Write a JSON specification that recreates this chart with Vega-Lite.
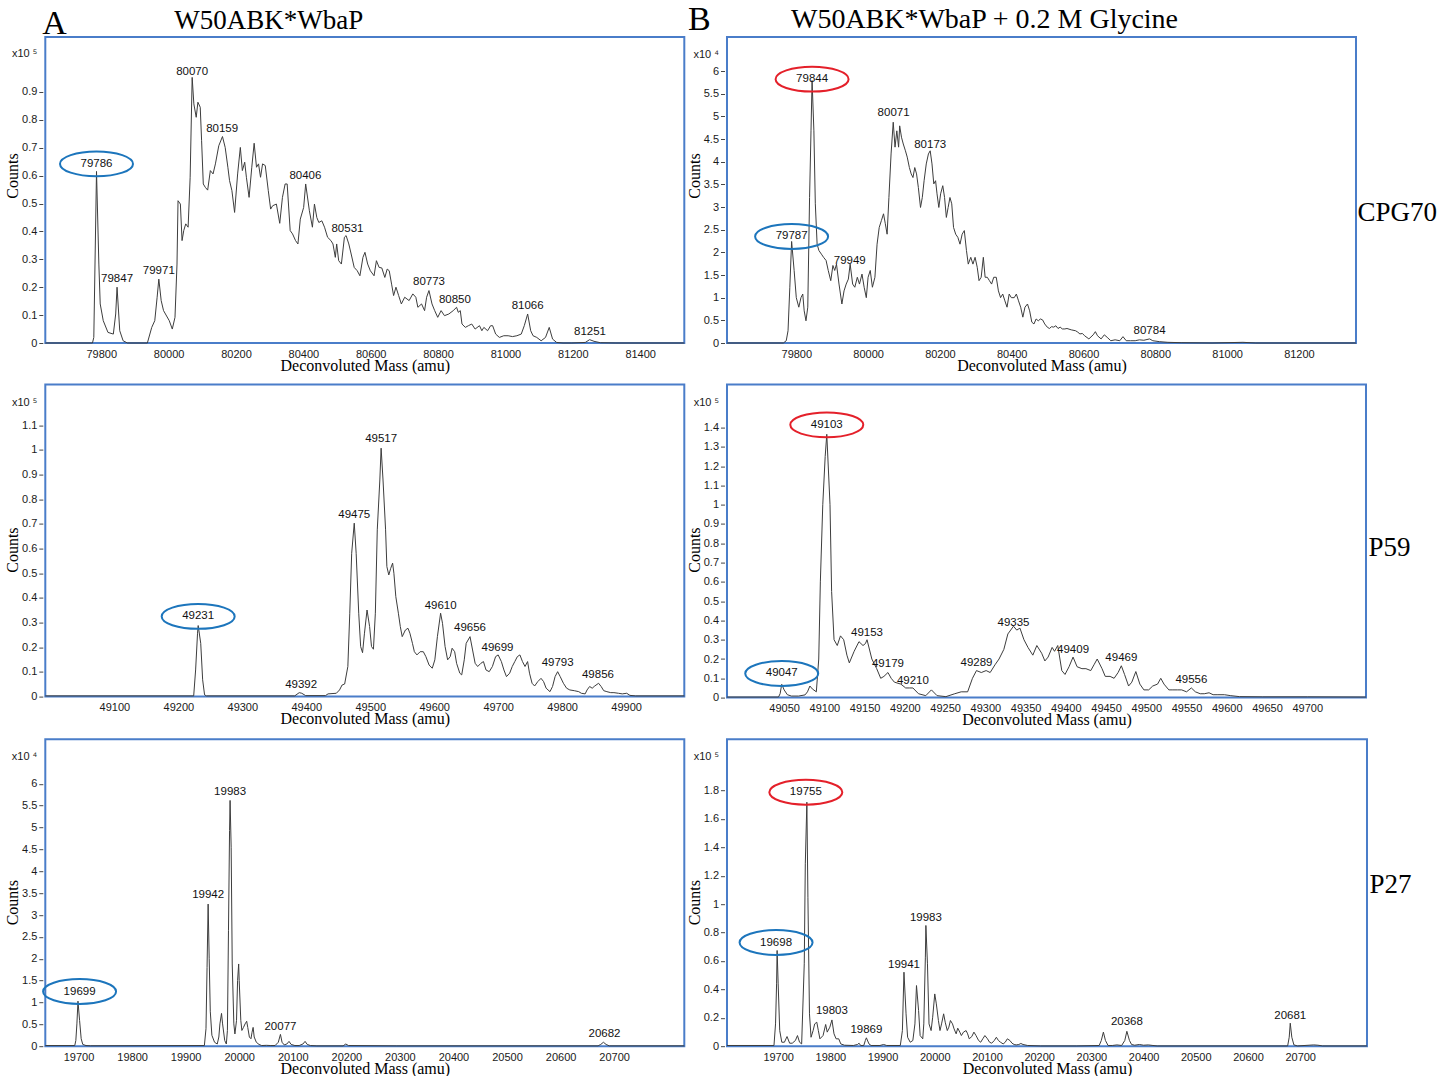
{
"$schema": "https://vega.github.io/schema/vega-lite/v6.json",
"background": "white",
"padding": {"left": 3.3, "top": 1, "right": 0, "bottom": 0},
"columns": 2,
"bounds": "flush",
"align": "each",
"spacing": {"row": 41.6, "column": 42.7},
"resolve": {"scale": {"x": "independent", "y": "independent"}},
"config": {
  "view": {"stroke": "#4A7DC9", "strokeWidth": 2},
  "axis": {"labelFont": "Liberation Sans", "labelFontSize": 11, "labelColor": "#1a1a1a", "titleFont": "Liberation Serif", "titleFontSize": 16, "titleFontWeight": "normal", "titleColor": "#000000", "grid": false, "domain": false, "tickColor": "#444444", "labelOverlap": false, "labelFlush": false, "labelBound": false},
  "axisBottom": {"ticks": false, "labelPadding": 5, "titlePadding": -2},
  "axisLeft": {"offset": 2.5, "tickSize": 4, "labelPadding": 2, "titleX": -30, "titleBaseline": "middle"},
  "text": {"font": "Liberation Sans", "fontSize": 11.5, "color": "#111111"}
},
"datasets": {
  "a1": [{"mass":79634,"counts":0},{"mass":79774,"counts":0},{"mass":79778,"counts":0.02},{"mass":79786,"counts":0.615},{"mass":79793,"counts":0.283},{"mass":79797,"counts":0.14},{"mass":79806,"counts":0.08},{"mass":79820,"counts":0.038},{"mass":79836,"counts":0.032},{"mass":79843,"counts":0.104},{"mass":79847,"counts":0.2},{"mass":79855,"counts":0.044},{"mass":79865,"counts":0.008},{"mass":79878,"counts":0},{"mass":79937,"counts":0},{"mass":79950,"counts":0.056},{"mass":79959,"counts":0.08},{"mass":79966,"counts":0.164},{"mass":79971,"counts":0.229},{"mass":79978,"counts":0.152},{"mass":79985,"counts":0.116},{"mass":80002,"counts":0.08},{"mass":80011,"counts":0.05},{"mass":80019,"counts":0.092},{"mass":80025,"counts":0.283},{"mass":80028,"counts":0.51},{"mass":80035,"counts":0.498},{"mass":80040,"counts":0.367},{"mass":80045,"counts":0.403},{"mass":80051,"counts":0.427},{"mass":80058,"counts":0.415},{"mass":80064,"counts":0.594},{"mass":80070,"counts":0.952},{"mass":80075,"counts":0.857},{"mass":80082,"counts":0.809},{"mass":80087,"counts":0.863},{"mass":80094,"counts":0.845},{"mass":80098,"counts":0.725},{"mass":80103,"counts":0.57},{"mass":80109,"counts":0.558},{"mass":80116,"counts":0.548},{"mass":80124,"counts":0.618},{"mass":80132,"counts":0.606},{"mass":80139,"counts":0.642},{"mass":80149,"counts":0.707},{"mass":80160,"counts":0.74},{"mass":80168,"counts":0.701},{"mass":80176,"counts":0.63},{"mass":80181,"counts":0.582},{"mass":80188,"counts":0.546},{"mass":80196,"counts":0.468},{"mass":80205,"counts":0.606},{"mass":80213,"counts":0.701},{"mass":80219,"counts":0.618},{"mass":80226,"counts":0.648},{"mass":80231,"counts":0.594},{"mass":80239,"counts":0.522},{"mass":80247,"counts":0.63},{"mass":80254,"counts":0.716},{"mass":80261,"counts":0.63},{"mass":80267,"counts":0.642},{"mass":80273,"counts":0.594},{"mass":80279,"counts":0.642},{"mass":80287,"counts":0.636},{"mass":80296,"counts":0.546},{"mass":80303,"counts":0.48},{"mass":80309,"counts":0.492},{"mass":80320,"counts":0.498},{"mass":80330,"counts":0.429},{"mass":80338,"counts":0.522},{"mass":80346,"counts":0.57},{"mass":80352,"counts":0.57},{"mass":80361,"counts":0.403},{"mass":80368,"counts":0.391},{"mass":80377,"counts":0.367},{"mass":80384,"counts":0.355},{"mass":80391,"counts":0.444},{"mass":80401,"counts":0.486},{"mass":80407,"counts":0.57},{"mass":80418,"counts":0.474},{"mass":80427,"counts":0.415},{"mass":80433,"counts":0.498},{"mass":80440,"counts":0.45},{"mass":80446,"counts":0.432},{"mass":80455,"counts":0.438},{"mass":80463,"counts":0.415},{"mass":80472,"counts":0.379},{"mass":80482,"counts":0.367},{"mass":80488,"counts":0.355},{"mass":80495,"counts":0.307},{"mass":80499,"counts":0.355},{"mass":80505,"counts":0.295},{"mass":80513,"counts":0.283},{"mass":80522,"counts":0.379},{"mass":80527,"counts":0.385},{"mass":80535,"counts":0.355},{"mass":80542,"counts":0.319},{"mass":80551,"counts":0.271},{"mass":80560,"counts":0.259},{"mass":80568,"counts":0.241},{"mass":80577,"counts":0.307},{"mass":80583,"counts":0.325},{"mass":80591,"counts":0.283},{"mass":80599,"counts":0.259},{"mass":80610,"counts":0.241},{"mass":80617,"counts":0.295},{"mass":80625,"counts":0.271},{"mass":80633,"counts":0.269},{"mass":80642,"counts":0.235},{"mass":80649,"counts":0.265},{"mass":80655,"counts":0.259},{"mass":80662,"counts":0.211},{"mass":80668,"counts":0.17},{"mass":80675,"counts":0.2},{"mass":80683,"counts":0.17},{"mass":80691,"counts":0.14},{"mass":80701,"counts":0.164},{"mass":80714,"counts":0.152},{"mass":80725,"counts":0.176},{"mass":80734,"counts":0.164},{"mass":80740,"counts":0.128},{"mass":80751,"counts":0.14},{"mass":80760,"counts":0.116},{"mass":80766,"counts":0.164},{"mass":80773,"counts":0.188},{"mass":80782,"counts":0.14},{"mass":80790,"counts":0.116},{"mass":80799,"counts":0.092},{"mass":80809,"counts":0.116},{"mass":80819,"counts":0.098},{"mass":80832,"counts":0.104},{"mass":80845,"counts":0.116},{"mass":80855,"counts":0.128},{"mass":80860,"counts":0.11},{"mass":80866,"counts":0.116},{"mass":80871,"counts":0.068},{"mass":80881,"counts":0.056},{"mass":80890,"counts":0.062},{"mass":80900,"counts":0.068},{"mass":80910,"counts":0.05},{"mass":80923,"counts":0.062},{"mass":80930,"counts":0.044},{"mass":80936,"counts":0.056},{"mass":80947,"counts":0.044},{"mass":80956,"counts":0.062},{"mass":80962,"counts":0.062},{"mass":80971,"counts":0.032},{"mass":80982,"counts":0.02},{"mass":80995,"counts":0.026},{"mass":81008,"counts":0.026},{"mass":81021,"counts":0.023},{"mass":81034,"counts":0.026},{"mass":81047,"counts":0.032},{"mass":81056,"counts":0.062},{"mass":81066,"counts":0.104},{"mass":81075,"counts":0.044},{"mass":81082,"counts":0.026},{"mass":81093,"counts":0.02},{"mass":81106,"counts":0.008},{"mass":81119,"counts":0.02},{"mass":81130,"counts":0.056},{"mass":81140,"counts":0.014},{"mass":81152,"counts":0.002},{"mass":81171,"counts":0},{"mass":81197,"counts":0},{"mass":81237,"counts":0.002},{"mass":81250,"counts":0.012},{"mass":81263,"counts":0.006},{"mass":81282,"counts":0.001},{"mass":81328,"counts":0},{"mass":81531,"counts":0}],
  "a1p": [{"mass":79786,"counts":0.642,"label":"79786","ring":"blue"},{"mass":79847,"counts":0.229,"label":"79847"},{"mass":79971,"counts":0.259,"label":"79971"},{"mass":80070,"counts":0.973,"label":"80070"},{"mass":80159,"counts":0.767,"label":"80159"},{"mass":80406,"counts":0.6,"label":"80406"},{"mass":80531,"counts":0.409,"label":"80531"},{"mass":80773,"counts":0.217,"label":"80773"},{"mass":80850,"counts":0.154,"label":"80850"},{"mass":81066,"counts":0.134,"label":"81066"},{"mass":81251,"counts":0.041,"label":"81251"}],
  "b1": [{"mass":79607,"counts":0},{"mass":79764,"counts":0},{"mass":79772,"counts":0.05},{"mass":79777,"counts":0.27},{"mass":79782,"counts":1.23},{"mass":79787,"counts":2.24},{"mass":79794,"counts":1.6},{"mass":79800,"counts":1.0},{"mass":79807,"counts":0.79},{"mass":79813,"counts":1.0},{"mass":79818,"counts":1.08},{"mass":79822,"counts":0.71},{"mass":79827,"counts":0.49},{"mass":79832,"counts":0.79},{"mass":79837,"counts":3.21},{"mass":79841,"counts":4.68},{"mass":79844,"counts":5.79},{"mass":79849,"counts":4.68},{"mass":79853,"counts":3.07},{"mass":79858,"counts":2.18},{"mass":79863,"counts":2.04},{"mass":79870,"counts":1.96},{"mass":79876,"counts":1.89},{"mass":79883,"counts":1.82},{"mass":79889,"counts":1.6},{"mass":79896,"counts":1.375},{"mass":79902,"counts":1.71},{"mass":79907,"counts":1.6},{"mass":79912,"counts":1.74},{"mass":79919,"counts":1.3},{"mass":79927,"counts":0.86},{"mass":79933,"counts":1.15},{"mass":79939,"counts":1.3},{"mass":79945,"counts":1.41},{"mass":79950,"counts":1.74},{"mass":79957,"counts":1.3},{"mass":79963,"counts":1.23},{"mass":79970,"counts":1.45},{"mass":79976,"counts":1.3},{"mass":79983,"counts":1.52},{"mass":79989,"counts":1.23},{"mass":79995,"counts":1.0},{"mass":80000,"counts":1.45},{"mass":80006,"counts":1.6},{"mass":80012,"counts":1.23},{"mass":80019,"counts":1.45},{"mass":80025,"counts":2.18},{"mass":80031,"counts":2.55},{"mass":80037,"counts":2.7},{"mass":80043,"counts":2.85},{"mass":80048,"counts":2.63},{"mass":80053,"counts":2.4},{"mass":80058,"counts":3.21},{"mass":80064,"counts":4.17},{"mass":80070,"counts":4.87},{"mass":80075,"counts":4.32},{"mass":80080,"counts":4.68},{"mass":80085,"counts":4.32},{"mass":80088,"counts":4.79},{"mass":80093,"counts":4.54},{"mass":80098,"counts":4.39},{"mass":80104,"counts":4.24},{"mass":80109,"counts":4.1},{"mass":80115,"counts":3.87},{"mass":80120,"counts":3.73},{"mass":80125,"counts":3.65},{"mass":80130,"counts":3.87},{"mass":80135,"counts":3.73},{"mass":80140,"counts":3.43},{"mass":80146,"counts":2.99},{"mass":80151,"counts":3.21},{"mass":80156,"counts":3.58},{"mass":80162,"counts":3.95},{"mass":80168,"counts":4.17},{"mass":80173,"counts":4.24},{"mass":80178,"counts":3.95},{"mass":80183,"counts":3.51},{"mass":80188,"counts":3.58},{"mass":80192,"counts":3.29},{"mass":80197,"counts":2.99},{"mass":80202,"counts":3.29},{"mass":80208,"counts":3.47},{"mass":80213,"counts":3.21},{"mass":80218,"counts":2.77},{"mass":80223,"counts":2.99},{"mass":80228,"counts":3.21},{"mass":80233,"counts":3.07},{"mass":80238,"counts":2.55},{"mass":80244,"counts":2.4},{"mass":80250,"counts":2.33},{"mass":80256,"counts":2.18},{"mass":80262,"counts":2.4},{"mass":80268,"counts":2.48},{"mass":80274,"counts":2.04},{"mass":80279,"counts":1.74},{"mass":80286,"counts":1.89},{"mass":80292,"counts":1.74},{"mass":80298,"counts":1.89},{"mass":80304,"counts":1.67},{"mass":80309,"counts":1.375},{"mass":80315,"counts":1.45},{"mass":80321,"counts":1.89},{"mass":80326,"counts":1.45},{"mass":80332,"counts":1.45},{"mass":80338,"counts":1.375},{"mass":80344,"counts":1.3},{"mass":80350,"counts":1.45},{"mass":80357,"counts":1.45},{"mass":80363,"counts":1.15},{"mass":80369,"counts":1.0},{"mass":80375,"counts":1.08},{"mass":80381,"counts":0.93},{"mass":80387,"counts":0.79},{"mass":80393,"counts":1.08},{"mass":80399,"counts":1.0},{"mass":80407,"counts":1.0},{"mass":80413,"counts":1.08},{"mass":80419,"counts":0.93},{"mass":80425,"counts":0.79},{"mass":80431,"counts":0.57},{"mass":80437,"counts":0.79},{"mass":80444,"counts":0.86},{"mass":80450,"counts":0.71},{"mass":80456,"counts":0.46},{"mass":80462,"counts":0.42},{"mass":80468,"counts":0.53},{"mass":80474,"counts":0.49},{"mass":80480,"counts":0.53},{"mass":80486,"counts":0.51},{"mass":80492,"counts":0.42},{"mass":80499,"counts":0.35},{"mass":80505,"counts":0.32},{"mass":80511,"counts":0.36},{"mass":80517,"counts":0.35},{"mass":80523,"counts":0.38},{"mass":80529,"counts":0.32},{"mass":80535,"counts":0.35},{"mass":80541,"counts":0.31},{"mass":80548,"counts":0.31},{"mass":80554,"counts":0.32},{"mass":80566,"counts":0.29},{"mass":80578,"counts":0.27},{"mass":80584,"counts":0.24},{"mass":80590,"counts":0.2},{"mass":80597,"counts":0.21},{"mass":80603,"counts":0.16},{"mass":80615,"counts":0.09},{"mass":80627,"counts":0.18},{"mass":80633,"counts":0.25},{"mass":80639,"counts":0.16},{"mass":80649,"counts":0.09},{"mass":80658,"counts":0.18},{"mass":80666,"counts":0.125},{"mass":80676,"counts":0.05},{"mass":80688,"counts":0.07},{"mass":80701,"counts":0.05},{"mass":80710,"counts":0.14},{"mass":80719,"counts":0.05},{"mass":80731,"counts":0.05},{"mass":80744,"counts":0.05},{"mass":80756,"counts":0.07},{"mass":80768,"counts":0.06},{"mass":80784,"counts":0.09},{"mass":80793,"counts":0.05},{"mass":80811,"counts":0.03},{"mass":80835,"counts":0.015},{"mass":80872,"counts":0.007},{"mass":80958,"counts":0},{"mass":81044,"counts":0.015},{"mass":81080,"counts":0},{"mass":81359,"counts":0}],
  "b1p": [{"mass":79844,"counts":5.82,"label":"79844","ring":"red"},{"mass":79787,"counts":2.35,"label":"79787","ring":"blue"},{"mass":79949,"counts":1.8,"label":"79949"},{"mass":80071,"counts":5.07,"label":"80071"},{"mass":80173,"counts":4.375,"label":"80173"},{"mass":80784,"counts":0.27,"label":"80784"}],
  "a2": [{"mass":48992,"counts":0.003},{"mass":49224,"counts":0.003},{"mass":49227,"counts":0.108},{"mass":49230,"counts":0.257},{"mass":49231,"counts":0.288},{"mass":49235,"counts":0.216},{"mass":49238,"counts":0.068},{"mass":49241,"counts":0.007},{"mass":49244,"counts":0.003},{"mass":49382,"counts":0.003},{"mass":49389,"counts":0.016},{"mass":49393,"counts":0.0135},{"mass":49399,"counts":0.004},{"mass":49430,"counts":0.004},{"mass":49434,"counts":0.011},{"mass":49447,"counts":0.0135},{"mass":49452,"counts":0.027},{"mass":49456,"counts":0.047},{"mass":49460,"counts":0.051},{"mass":49465,"counts":0.122},{"mass":49468,"counts":0.338},{"mass":49471,"counts":0.581},{"mass":49475,"counts":0.703},{"mass":49478,"counts":0.581},{"mass":49482,"counts":0.338},{"mass":49485,"counts":0.203},{"mass":49488,"counts":0.178},{"mass":49491,"counts":0.257},{"mass":49495,"counts":0.351},{"mass":49499,"counts":0.284},{"mass":49502,"counts":0.203},{"mass":49505,"counts":0.192},{"mass":49508,"counts":0.338},{"mass":49511,"counts":0.676},{"mass":49515,"counts":0.878},{"mass":49517,"counts":1.007},{"mass":49520,"counts":0.878},{"mass":49524,"counts":0.676},{"mass":49526,"counts":0.527},{"mass":49529,"counts":0.493},{"mass":49532,"counts":0.52},{"mass":49535,"counts":0.541},{"mass":49537,"counts":0.5},{"mass":49540,"counts":0.405},{"mass":49544,"counts":0.338},{"mass":49547,"counts":0.284},{"mass":49550,"counts":0.243},{"mass":49555,"counts":0.27},{"mass":49559,"counts":0.277},{"mass":49562,"counts":0.257},{"mass":49566,"counts":0.216},{"mass":49569,"counts":0.182},{"mass":49573,"counts":0.169},{"mass":49578,"counts":0.182},{"mass":49583,"counts":0.182},{"mass":49587,"counts":0.162},{"mass":49592,"counts":0.128},{"mass":49597,"counts":0.115},{"mass":49601,"counts":0.149},{"mass":49605,"counts":0.243},{"mass":49610,"counts":0.338},{"mass":49613,"counts":0.297},{"mass":49617,"counts":0.203},{"mass":49621,"counts":0.149},{"mass":49625,"counts":0.162},{"mass":49628,"counts":0.196},{"mass":49632,"counts":0.182},{"mass":49635,"counts":0.135},{"mass":49640,"counts":0.095},{"mass":49643,"counts":0.088},{"mass":49647,"counts":0.149},{"mass":49650,"counts":0.216},{"mass":49656,"counts":0.243},{"mass":49660,"counts":0.189},{"mass":49664,"counts":0.135},{"mass":49668,"counts":0.122},{"mass":49673,"counts":0.135},{"mass":49677,"counts":0.142},{"mass":49681,"counts":0.108},{"mass":49686,"counts":0.101},{"mass":49691,"counts":0.122},{"mass":49696,"counts":0.162},{"mass":49700,"counts":0.169},{"mass":49705,"counts":0.142},{"mass":49709,"counts":0.108},{"mass":49713,"counts":0.081},{"mass":49718,"counts":0.095},{"mass":49722,"counts":0.122},{"mass":49726,"counts":0.142},{"mass":49730,"counts":0.162},{"mass":49734,"counts":0.169},{"mass":49738,"counts":0.142},{"mass":49742,"counts":0.122},{"mass":49746,"counts":0.142},{"mass":49749,"counts":0.095},{"mass":49753,"counts":0.054},{"mass":49757,"counts":0.043},{"mass":49762,"counts":0.061},{"mass":49767,"counts":0.074},{"mass":49771,"counts":0.061},{"mass":49775,"counts":0.034},{"mass":49781,"counts":0.02},{"mass":49785,"counts":0.041},{"mass":49789,"counts":0.081},{"mass":49793,"counts":0.101},{"mass":49797,"counts":0.081},{"mass":49802,"counts":0.054},{"mass":49807,"counts":0.034},{"mass":49812,"counts":0.027},{"mass":49819,"counts":0.024},{"mass":49826,"counts":0.02},{"mass":49830,"counts":0.0135},{"mass":49836,"counts":0.011},{"mass":49839,"counts":0.027},{"mass":49843,"counts":0.041},{"mass":49847,"counts":0.034},{"mass":49851,"counts":0.043},{"mass":49857,"counts":0.054},{"mass":49861,"counts":0.041},{"mass":49865,"counts":0.024},{"mass":49870,"counts":0.02},{"mass":49876,"counts":0.016},{"mass":49881,"counts":0.016},{"mass":49888,"counts":0.0135},{"mass":49894,"counts":0.011},{"mass":49901,"counts":0.0135},{"mass":49906,"counts":0.005},{"mass":49915,"counts":0.003},{"mass":49991,"counts":0.003}],
  "a2p": [{"mass":49231,"counts":0.325,"label":"49231","ring":"blue"},{"mass":49392,"counts":0.047,"label":"49392"},{"mass":49475,"counts":0.736,"label":"49475"},{"mass":49517,"counts":1.045,"label":"49517"},{"mass":49610,"counts":0.368,"label":"49610"},{"mass":49656,"counts":0.277,"label":"49656"},{"mass":49699,"counts":0.195,"label":"49699"},{"mass":49793,"counts":0.138,"label":"49793"},{"mass":49856,"counts":0.089,"label":"49856"}],
  "b2": [{"mass":48979,"counts":0.003},{"mass":49043,"counts":0.003},{"mass":49045,"counts":0.02},{"mass":49047,"counts":0.069},{"mass":49050,"counts":0.04},{"mass":49054,"counts":0.015},{"mass":49059,"counts":0.008},{"mass":49068,"counts":0.008},{"mass":49076,"counts":0.014},{"mass":49079,"counts":0.03},{"mass":49082,"counts":0.06},{"mass":49085,"counts":0.045},{"mass":49090,"counts":0.03},{"mass":49093,"counts":0.2},{"mass":49095,"counts":0.6},{"mass":49098,"counts":1.0},{"mass":49101,"counts":1.25},{"mass":49103,"counts":1.365},{"mass":49107,"counts":1.0},{"mass":49109,"counts":0.55},{"mass":49112,"counts":0.3},{"mass":49116,"counts":0.27},{"mass":49120,"counts":0.32},{"mass":49124,"counts":0.3},{"mass":49128,"counts":0.22},{"mass":49131,"counts":0.18},{"mass":49137,"counts":0.24},{"mass":49143,"counts":0.29},{"mass":49148,"counts":0.27},{"mass":49151,"counts":0.28},{"mass":49153,"counts":0.3},{"mass":49159,"counts":0.2},{"mass":49165,"counts":0.15},{"mass":49170,"counts":0.1},{"mass":49174,"counts":0.11},{"mass":49179,"counts":0.13},{"mass":49183,"counts":0.1},{"mass":49187,"counts":0.08},{"mass":49195,"counts":0.07},{"mass":49201,"counts":0.05},{"mass":49206,"counts":0.05},{"mass":49210,"counts":0.05},{"mass":49217,"counts":0.02},{"mass":49226,"counts":0.01},{"mass":49233,"counts":0.04},{"mass":49240,"counts":0.01},{"mass":49251,"counts":0.005},{"mass":49262,"counts":0.02},{"mass":49270,"counts":0.03},{"mass":49278,"counts":0.03},{"mass":49284,"counts":0.1},{"mass":49289,"counts":0.14},{"mass":49295,"counts":0.13},{"mass":49301,"counts":0.14},{"mass":49306,"counts":0.13},{"mass":49312,"counts":0.17},{"mass":49317,"counts":0.2},{"mass":49323,"counts":0.25},{"mass":49328,"counts":0.33},{"mass":49335,"counts":0.37},{"mass":49339,"counts":0.35},{"mass":49343,"counts":0.36},{"mass":49348,"counts":0.3},{"mass":49353,"counts":0.26},{"mass":49359,"counts":0.22},{"mass":49364,"counts":0.27},{"mass":49370,"counts":0.23},{"mass":49374,"counts":0.19},{"mass":49378,"counts":0.21},{"mass":49383,"counts":0.26},{"mass":49386,"counts":0.24},{"mass":49390,"counts":0.27},{"mass":49395,"counts":0.14},{"mass":49399,"counts":0.12},{"mass":49404,"counts":0.16},{"mass":49409,"counts":0.21},{"mass":49414,"counts":0.16},{"mass":49420,"counts":0.15},{"mass":49425,"counts":0.15},{"mass":49431,"counts":0.14},{"mass":49435,"counts":0.17},{"mass":49439,"counts":0.2},{"mass":49445,"counts":0.15},{"mass":49449,"counts":0.11},{"mass":49455,"counts":0.11},{"mass":49460,"counts":0.1},{"mass":49465,"counts":0.13},{"mass":49469,"counts":0.165},{"mass":49473,"counts":0.12},{"mass":49478,"counts":0.06},{"mass":49482,"counts":0.08},{"mass":49487,"counts":0.135},{"mass":49492,"counts":0.07},{"mass":49497,"counts":0.04},{"mass":49503,"counts":0.04},{"mass":49508,"counts":0.06},{"mass":49514,"counts":0.07},{"mass":49518,"counts":0.1},{"mass":49522,"counts":0.07},{"mass":49528,"counts":0.04},{"mass":49533,"counts":0.04},{"mass":49539,"counts":0.04},{"mass":49544,"counts":0.04},{"mass":49550,"counts":0.03},{"mass":49556,"counts":0.05},{"mass":49561,"counts":0.03},{"mass":49567,"counts":0.02},{"mass":49572,"counts":0.02},{"mass":49578,"counts":0.025},{"mass":49583,"counts":0.015},{"mass":49589,"counts":0.015},{"mass":49597,"counts":0.015},{"mass":49605,"counts":0.01},{"mass":49616,"counts":0.005},{"mass":49644,"counts":0.004},{"mass":49700,"counts":0.004},{"mass":49773,"counts":0.003}],
  "b2p": [{"mass":49047,"counts":0.125,"label":"49047","ring":"blue"},{"mass":49103,"counts":1.414,"label":"49103","ring":"red"},{"mass":49153,"counts":0.334,"label":"49153"},{"mass":49179,"counts":0.173,"label":"49179"},{"mass":49210,"counts":0.086,"label":"49210"},{"mass":49289,"counts":0.181,"label":"49289"},{"mass":49335,"counts":0.389,"label":"49335"},{"mass":49409,"counts":0.245,"label":"49409"},{"mass":49469,"counts":0.204,"label":"49469"},{"mass":49556,"counts":0.09,"label":"49556"}],
  "a3": [{"mass":19638,"counts":0.015},{"mass":19693,"counts":0.015},{"mass":19695,"counts":0.13},{"mass":19697,"counts":0.51},{"mass":19699,"counts":1.03},{"mass":19702,"counts":0.59},{"mass":19705,"counts":0.17},{"mass":19708,"counts":0.04},{"mass":19714,"counts":0.015},{"mass":19722,"counts":0.01},{"mass":19935,"counts":0.015},{"mass":19938,"counts":0.4},{"mass":19940,"counts":1.8},{"mass":19942,"counts":3.25},{"mass":19944,"counts":2.0},{"mass":19946,"counts":0.8},{"mass":19949,"counts":0.25},{"mass":19954,"counts":0.09},{"mass":19959,"counts":0.05},{"mass":19962,"counts":0.21},{"mass":19964,"counts":0.51},{"mass":19967,"counts":0.75},{"mass":19969,"counts":0.51},{"mass":19973,"counts":0.13},{"mass":19976,"counts":0.05},{"mass":19978,"counts":0.36},{"mass":19980,"counts":2.64},{"mass":19982,"counts":4.93},{"mass":19983,"counts":5.62},{"mass":19985,"counts":4.55},{"mass":19987,"counts":1.88},{"mass":19990,"counts":0.51},{"mass":19992,"counts":0.28},{"mass":19995,"counts":0.59},{"mass":19997,"counts":1.5},{"mass":19999,"counts":1.88},{"mass":20000,"counts":1.5},{"mass":20003,"counts":0.59},{"mass":20005,"counts":0.36},{"mass":20008,"counts":0.43},{"mass":20011,"counts":0.51},{"mass":20014,"counts":0.57},{"mass":20016,"counts":0.43},{"mass":20019,"counts":0.21},{"mass":20022,"counts":0.17},{"mass":20024,"counts":0.32},{"mass":20026,"counts":0.43},{"mass":20028,"counts":0.21},{"mass":20032,"counts":0.09},{"mass":20037,"counts":0.04},{"mass":20042,"counts":0.015},{"mass":20051,"counts":0.02},{"mass":20059,"counts":0.015},{"mass":20067,"counts":0.015},{"mass":20073,"counts":0.09},{"mass":20077,"counts":0.27},{"mass":20080,"counts":0.09},{"mass":20084,"counts":0.03},{"mass":20089,"counts":0.05},{"mass":20093,"counts":0.11},{"mass":20097,"counts":0.04},{"mass":20104,"counts":0.015},{"mass":20112,"counts":0.015},{"mass":20119,"counts":0.05},{"mass":20123,"counts":0.11},{"mass":20127,"counts":0.04},{"mass":20133,"counts":0.015},{"mass":20145,"counts":0.008},{"mass":20194,"counts":0.008},{"mass":20199,"counts":0.05},{"mass":20204,"counts":0.015},{"mass":20293,"counts":0.008},{"mass":20670,"counts":0.008},{"mass":20675,"counts":0.04},{"mass":20680,"counts":0.09},{"mass":20685,"counts":0.04},{"mass":20691,"counts":0.008},{"mass":20831,"counts":0.008}],
  "a3p": [{"mass":19702,"counts":1.25,"label":"19699","ring":"blue"},{"mass":19942,"counts":3.45,"label":"19942"},{"mass":19983,"counts":5.82,"label":"19983"},{"mass":20077,"counts":0.43,"label":"20077"},{"mass":20682,"counts":0.28,"label":"20682"}],
  "b3": [{"mass":19602,"counts":0.005},{"mass":19692,"counts":0.005},{"mass":19695,"counts":0.157},{"mass":19697,"counts":0.439},{"mass":19698,"counts":0.674},{"mass":19700,"counts":0.439},{"mass":19703,"counts":0.11},{"mass":19707,"counts":0.028},{"mass":19712,"counts":0.028},{"mass":19717,"counts":0.068},{"mass":19722,"counts":0.021},{"mass":19727,"counts":0.021},{"mass":19733,"counts":0.04},{"mass":19737,"counts":0.075},{"mass":19741,"counts":0.028},{"mass":19745,"counts":0.016},{"mass":19750,"counts":0.58},{"mass":19752,"counts":1.284},{"mass":19755,"counts":1.718},{"mass":19757,"counts":1.049},{"mass":19760,"counts":0.228},{"mass":19763,"counts":0.063},{"mass":19767,"counts":0.11},{"mass":19770,"counts":0.157},{"mass":19774,"counts":0.169},{"mass":19777,"counts":0.11},{"mass":19780,"counts":0.052},{"mass":19786,"counts":0.075},{"mass":19791,"counts":0.153},{"mass":19794,"counts":0.099},{"mass":19799,"counts":0.134},{"mass":19803,"counts":0.185},{"mass":19807,"counts":0.087},{"mass":19811,"counts":0.052},{"mass":19816,"counts":0.052},{"mass":19820,"counts":0.016},{"mass":19827,"counts":0.007},{"mass":19844,"counts":0.005},{"mass":19852,"counts":0.012},{"mass":19855,"counts":0.021},{"mass":19858,"counts":0.005},{"mass":19864,"counts":0.005},{"mass":19867,"counts":0.04},{"mass":19869,"counts":0.059},{"mass":19874,"counts":0.016},{"mass":19878,"counts":0.005},{"mass":19895,"counts":0.005},{"mass":19902,"counts":0.012},{"mass":19908,"counts":0.005},{"mass":19934,"counts":0.005},{"mass":19938,"counts":0.11},{"mass":19941,"counts":0.521},{"mass":19945,"counts":0.228},{"mass":19948,"counts":0.063},{"mass":19953,"counts":0.028},{"mass":19958,"counts":0.04},{"mass":19962,"counts":0.157},{"mass":19965,"counts":0.427},{"mass":19969,"counts":0.251},{"mass":19972,"counts":0.075},{"mass":19977,"counts":0.052},{"mass":19979,"counts":0.157},{"mass":19982,"counts":0.627},{"mass":19983,"counts":0.85},{"mass":19986,"counts":0.58},{"mass":19989,"counts":0.157},{"mass":19993,"counts":0.11},{"mass":19996,"counts":0.204},{"mass":20000,"counts":0.368},{"mass":20003,"counts":0.298},{"mass":20007,"counts":0.181},{"mass":20010,"counts":0.11},{"mass":20013,"counts":0.157},{"mass":20017,"counts":0.228},{"mass":20020,"counts":0.169},{"mass":20024,"counts":0.11},{"mass":20027,"counts":0.134},{"mass":20030,"counts":0.181},{"mass":20034,"counts":0.157},{"mass":20037,"counts":0.122},{"mass":20041,"counts":0.087},{"mass":20044,"counts":0.127},{"mass":20048,"counts":0.099},{"mass":20051,"counts":0.075},{"mass":20055,"counts":0.099},{"mass":20060,"counts":0.11},{"mass":20063,"counts":0.087},{"mass":20066,"counts":0.052},{"mass":20071,"counts":0.068},{"mass":20075,"counts":0.099},{"mass":20079,"counts":0.075},{"mass":20084,"counts":0.04},{"mass":20088,"counts":0.028},{"mass":20092,"counts":0.052},{"mass":20096,"counts":0.075},{"mass":20101,"counts":0.052},{"mass":20105,"counts":0.028},{"mass":20109,"counts":0.021},{"mass":20114,"counts":0.04},{"mass":20118,"counts":0.063},{"mass":20122,"counts":0.04},{"mass":20126,"counts":0.028},{"mass":20131,"counts":0.016},{"mass":20135,"counts":0.028},{"mass":20139,"counts":0.052},{"mass":20144,"counts":0.04},{"mass":20148,"counts":0.021},{"mass":20152,"counts":0.012},{"mass":20156,"counts":0.009},{"mass":20161,"counts":0.012},{"mass":20165,"counts":0.019},{"mass":20169,"counts":0.012},{"mass":20178,"counts":0.005},{"mass":20203,"counts":0.002},{"mass":20272,"counts":0.002},{"mass":20315,"counts":0.005},{"mass":20319,"counts":0.04},{"mass":20323,"counts":0.099},{"mass":20327,"counts":0.04},{"mass":20332,"counts":0.005},{"mass":20340,"counts":0.005},{"mass":20349,"counts":0.009},{"mass":20358,"counts":0.005},{"mass":20364,"counts":0.04},{"mass":20368,"counts":0.105},{"mass":20373,"counts":0.04},{"mass":20377,"counts":0.012},{"mass":20383,"counts":0.007},{"mass":20392,"counts":0.012},{"mass":20400,"counts":0.007},{"mass":20409,"counts":0.009},{"mass":20418,"counts":0.005},{"mass":20426,"counts":0.002},{"mass":20676,"counts":0.002},{"mass":20679,"counts":0.063},{"mass":20681,"counts":0.162},{"mass":20684,"counts":0.063},{"mass":20688,"counts":0.009},{"mass":20695,"counts":0.002},{"mass":20717,"counts":0.007},{"mass":20726,"counts":0.009},{"mass":20734,"counts":0.007},{"mass":20743,"counts":0.002},{"mass":20828,"counts":0.002}],
  "b3p": [{"mass":19753,"counts":1.788,"label":"19755","ring":"red"},{"mass":19696,"counts":0.73,"label":"19698","ring":"blue"},{"mass":19941,"counts":0.573,"label":"19941"},{"mass":19983,"counts":0.904,"label":"19983"},{"mass":19803,"counts":0.251,"label":"19803"},{"mass":19869,"counts":0.113,"label":"19869"},{"mass":20368,"counts":0.169,"label":"20368"},{"mass":20681,"counts":0.216,"label":"20681"}]
},
"concat": [
  {
    "width": 639, "height": 306,
    "title": {"text": "A", "anchor": "start", "frame": "group", "font": "Liberation Serif", "fontSize": 34, "fontWeight": "normal", "color": "#000000", "baseline": "alphabetic", "offset": -61.5, "dx": -3},
    "layer": [
      {"data": {"name": "a1"}, "mark": {"type": "line", "color": "#3c3c3c", "strokeWidth": 1},
       "encoding": {
         "x": {"field": "mass", "type": "quantitative", "scale": {"domain": [79634, 81531], "nice": false, "zero": false},
               "axis": {"values": [79800, 80000, 80200, 80400, 80600, 80800, 81000, 81200, 81400], "format": "d", "title": "Deconvoluted Mass (amu)"}},
         "y": {"field": "counts", "type": "quantitative", "scale": {"domain": [0, 1.0968], "nice": false, "zero": false},
               "axis": {"values": [0, 0.1, 0.2, 0.3, 0.4, 0.5, 0.6, 0.7, 0.8, 0.9, 1.038], "format": "~g", "labelExpr": "datum.value > 1 ? 'x10 ⁵' : datum.label", "tickOpacity": {"condition": {"test": "datum.value > 1", "value": 0}, "value": 1}, "title": "Counts", "titleY": 138.5}}}},
      {"data": {"name": "a1p"}, "mark": {"type": "text"},
       "encoding": {
         "x": {"field": "mass", "type": "quantitative", "scale": {"domain": [79634, 81531], "nice": false, "zero": false},
               "axis": {"orient": "top", "labels": false, "ticks": false, "domain": false, "title": "W50ABK*WbaP", "titleFont": "Liberation Serif", "titleFontSize": 27, "titleFontWeight": "normal", "titleX": 223, "titleY": -8.5, "titleAlign": "center", "titleBaseline": "alphabetic"}},
         "y": {"field": "counts", "type": "quantitative", "scale": {"domain": [0, 1.0968], "nice": false, "zero": false}, "axis": null},
         "text": {"field": "label"}}},
      {"data": {"name": "a1p"}, "transform": [{"filter": "datum.ring"}],
       "mark": {"type": "point", "shape": "M-1,0A1,0.34,0,1,0,1,0A1,0.34,0,1,0,-1,0Z", "size": 5329, "filled": false, "strokeWidth": 2, "opacity": 1},
       "encoding": {
         "x": {"field": "mass", "type": "quantitative", "scale": {"domain": [79634, 81531], "nice": false, "zero": false}, "axis": null},
         "y": {"field": "counts", "type": "quantitative", "scale": {"domain": [0, 1.0968], "nice": false, "zero": false}, "axis": null},
         "color": {"field": "ring", "type": "nominal", "scale": {"domain": ["blue", "red"], "range": ["#1C75BC", "#E4202A"]}, "legend": null}}}
    ],
    "resolve": {"axis": {"x": "independent", "y": "independent"}}
  },
  {
    "width": 629, "height": 306,
    "title": {"text": "B", "anchor": "start", "frame": "group", "font": "Liberation Serif", "fontSize": 34, "fontWeight": "normal", "color": "#000000", "baseline": "alphabetic", "offset": -58.2, "dx": -39},
    "layer": [
      {"data": {"name": "b1"}, "mark": {"type": "line", "color": "#3c3c3c", "strokeWidth": 1},
       "encoding": {
         "x": {"field": "mass", "type": "quantitative", "scale": {"domain": [79607, 81359], "nice": false, "zero": false},
               "axis": {"values": [79800, 80000, 80200, 80400, 80600, 80800, 81000, 81200], "format": "d", "title": "Deconvoluted Mass (amu)"}},
         "y": {"field": "counts", "type": "quantitative", "scale": {"domain": [0, 6.75], "nice": false, "zero": false},
               "axis": {"values": [0, 0.5, 1, 1.5, 2, 2.5, 3, 3.5, 4, 4.5, 5, 5.5, 6, 6.375], "format": "~g", "labelExpr": "datum.value > 6.2 ? 'x10 ⁴' : datum.label", "tickOpacity": {"condition": {"test": "datum.value > 6.2", "value": 0}, "value": 1}, "title": "Counts", "titleY": 138.5}}}},
      {"data": {"name": "b1p"}, "mark": {"type": "text"},
       "encoding": {
         "x": {"field": "mass", "type": "quantitative", "scale": {"domain": [79607, 81359], "nice": false, "zero": false},
               "axis": {"orient": "top", "labels": false, "ticks": false, "domain": false, "title": "W50ABK*WbaP + 0.2 M Glycine", "titleFont": "Liberation Serif", "titleFontSize": 28, "titleFontWeight": "normal", "titleX": 257, "titleY": -9.5, "titleAlign": "center", "titleBaseline": "alphabetic"}},
         "y": {"field": "counts", "type": "quantitative", "scale": {"domain": [0, 6.75], "nice": false, "zero": false},
               "axis": {"orient": "right", "labels": false, "ticks": false, "domain": false, "title": "CPG70", "titleAngle": 0, "titleAlign": "left", "titleBaseline": "middle", "titleX": 1, "titleY": 175, "titleFont": "Liberation Serif", "titleFontSize": 27, "titleFontWeight": "normal"}},
         "text": {"field": "label"}}},
      {"data": {"name": "b1p"}, "transform": [{"filter": "datum.ring"}],
       "mark": {"type": "point", "shape": "M-1,0A1,0.34,0,1,0,1,0A1,0.34,0,1,0,-1,0Z", "size": 5329, "filled": false, "strokeWidth": 2, "opacity": 1},
       "encoding": {
         "x": {"field": "mass", "type": "quantitative", "scale": {"domain": [79607, 81359], "nice": false, "zero": false}, "axis": null},
         "y": {"field": "counts", "type": "quantitative", "scale": {"domain": [0, 6.75], "nice": false, "zero": false}, "axis": null},
         "color": {"field": "ring", "type": "nominal", "scale": {"domain": ["blue", "red"], "range": ["#1C75BC", "#E4202A"]}, "legend": null}}}
    ],
    "resolve": {"axis": {"x": "independent", "y": "independent"}}
  },
  {
    "width": 639, "height": 312,
    "layer": [
      {"data": {"name": "a2"}, "mark": {"type": "line", "color": "#3c3c3c", "strokeWidth": 1},
       "encoding": {
         "x": {"field": "mass", "type": "quantitative", "scale": {"domain": [48992, 49991], "nice": false, "zero": false},
               "axis": {"values": [49100, 49200, 49300, 49400, 49500, 49600, 49700, 49800, 49900], "format": "d", "title": "Deconvoluted Mass (amu)"}},
         "y": {"field": "counts", "type": "quantitative", "scale": {"domain": [0, 1.2647], "nice": false, "zero": false},
               "axis": {"values": [0, 0.1, 0.2, 0.3, 0.4, 0.5, 0.6, 0.7, 0.8, 0.9, 1, 1.1, 1.192], "format": "~g", "labelExpr": "datum.value > 1.15 ? 'x10 ⁵' : datum.label", "tickOpacity": {"condition": {"test": "datum.value > 1.15", "value": 0}, "value": 1}, "title": "Counts", "titleY": 165}}}},
      {"data": {"name": "a2p"}, "mark": {"type": "text"},
       "encoding": {
         "x": {"field": "mass", "type": "quantitative", "scale": {"domain": [48992, 49991], "nice": false, "zero": false}, "axis": null},
         "y": {"field": "counts", "type": "quantitative", "scale": {"domain": [0, 1.2647], "nice": false, "zero": false}, "axis": null},
         "text": {"field": "label"}}},
      {"data": {"name": "a2p"}, "transform": [{"filter": "datum.ring"}],
       "mark": {"type": "point", "shape": "M-1,0A1,0.34,0,1,0,1,0A1,0.34,0,1,0,-1,0Z", "size": 5329, "filled": false, "strokeWidth": 2, "opacity": 1},
       "encoding": {
         "x": {"field": "mass", "type": "quantitative", "scale": {"domain": [48992, 49991], "nice": false, "zero": false}, "axis": null},
         "y": {"field": "counts", "type": "quantitative", "scale": {"domain": [0, 1.2647], "nice": false, "zero": false}, "axis": null},
         "color": {"field": "ring", "type": "nominal", "scale": {"domain": ["blue", "red"], "range": ["#1C75BC", "#E4202A"]}, "legend": null}}}
    ],
    "resolve": {"axis": {"x": "independent", "y": "independent"}}
  },
  {
    "width": 639, "height": 313,
    "layer": [
      {"data": {"name": "b2"}, "mark": {"type": "line", "color": "#3c3c3c", "strokeWidth": 1},
       "encoding": {
         "x": {"field": "mass", "type": "quantitative", "scale": {"domain": [48979, 49773], "nice": false, "zero": false},
               "axis": {"values": [49050, 49100, 49150, 49200, 49250, 49300, 49350, 49400, 49450, 49500, 49550, 49600, 49650, 49700], "format": "d", "title": "Deconvoluted Mass (amu)"}},
         "y": {"field": "counts", "type": "quantitative", "scale": {"domain": [0, 1.6226], "nice": false, "zero": false},
               "axis": {"values": [0, 0.1, 0.2, 0.3, 0.4, 0.5, 0.6, 0.7, 0.8, 0.9, 1, 1.1, 1.2, 1.3, 1.4, 1.529], "format": "~g", "labelExpr": "datum.value > 1.45 ? 'x10 ⁵' : datum.label", "tickOpacity": {"condition": {"test": "datum.value > 1.45", "value": 0}, "value": 1}, "title": "Counts", "titleY": 165}}}},
      {"data": {"name": "b2p"}, "mark": {"type": "text"},
       "encoding": {
         "x": {"field": "mass", "type": "quantitative", "scale": {"domain": [48979, 49773], "nice": false, "zero": false}, "axis": null},
         "y": {"field": "counts", "type": "quantitative", "scale": {"domain": [0, 1.6226], "nice": false, "zero": false},
               "axis": {"orient": "right", "labels": false, "ticks": false, "domain": false, "title": "P59", "titleAngle": 0, "titleAlign": "left", "titleBaseline": "middle", "titleX": 2, "titleY": 163, "titleFont": "Liberation Serif", "titleFontSize": 27, "titleFontWeight": "normal"}},
         "text": {"field": "label"}}},
      {"data": {"name": "b2p"}, "transform": [{"filter": "datum.ring"}],
       "mark": {"type": "point", "shape": "M-1,0A1,0.34,0,1,0,1,0A1,0.34,0,1,0,-1,0Z", "size": 5329, "filled": false, "strokeWidth": 2, "opacity": 1},
       "encoding": {
         "x": {"field": "mass", "type": "quantitative", "scale": {"domain": [48979, 49773], "nice": false, "zero": false}, "axis": null},
         "y": {"field": "counts", "type": "quantitative", "scale": {"domain": [0, 1.6226], "nice": false, "zero": false}, "axis": null},
         "color": {"field": "ring", "type": "nominal", "scale": {"domain": ["blue", "red"], "range": ["#1C75BC", "#E4202A"]}, "legend": null}}}
    ],
    "resolve": {"axis": {"x": "independent", "y": "independent"}}
  },
  {
    "width": 639, "height": 307,
    "layer": [
      {"data": {"name": "a3"}, "mark": {"type": "line", "color": "#3c3c3c", "strokeWidth": 1},
       "encoding": {
         "x": {"field": "mass", "type": "quantitative", "scale": {"domain": [19638, 20831], "nice": false, "zero": false},
               "axis": {"values": [19700, 19800, 19900, 20000, 20100, 20200, 20300, 20400, 20500, 20600, 20700], "format": "d", "title": "Deconvoluted Mass (amu)"}},
         "y": {"field": "counts", "type": "quantitative", "scale": {"domain": [0, 7.02], "nice": false, "zero": false},
               "axis": {"values": [0, 0.5, 1, 1.5, 2, 2.5, 3, 3.5, 4, 4.5, 5, 5.5, 6, 6.63], "format": "~g", "labelExpr": "datum.value > 6.2 ? 'x10 ⁴' : datum.label", "tickOpacity": {"condition": {"test": "datum.value > 6.2", "value": 0}, "value": 1}, "title": "Counts", "titleY": 163}}}},
      {"data": {"name": "a3p"}, "mark": {"type": "text"},
       "encoding": {
         "x": {"field": "mass", "type": "quantitative", "scale": {"domain": [19638, 20831], "nice": false, "zero": false}, "axis": null},
         "y": {"field": "counts", "type": "quantitative", "scale": {"domain": [0, 7.02], "nice": false, "zero": false}, "axis": null},
         "text": {"field": "label"}}},
      {"data": {"name": "a3p"}, "transform": [{"filter": "datum.ring"}],
       "mark": {"type": "point", "shape": "M-1,0A1,0.34,0,1,0,1,0A1,0.34,0,1,0,-1,0Z", "size": 5329, "filled": false, "strokeWidth": 2, "opacity": 1},
       "encoding": {
         "x": {"field": "mass", "type": "quantitative", "scale": {"domain": [19638, 20831], "nice": false, "zero": false}, "axis": null},
         "y": {"field": "counts", "type": "quantitative", "scale": {"domain": [0, 7.02], "nice": false, "zero": false}, "axis": null},
         "color": {"field": "ring", "type": "nominal", "scale": {"domain": ["blue", "red"], "range": ["#1C75BC", "#E4202A"]}, "legend": null}}}
    ],
    "resolve": {"axis": {"x": "independent", "y": "independent"}}
  },
  {
    "width": 640, "height": 307,
    "layer": [
      {"data": {"name": "b3"}, "mark": {"type": "line", "color": "#3c3c3c", "strokeWidth": 1},
       "encoding": {
         "x": {"field": "mass", "type": "quantitative", "scale": {"domain": [19602, 20828], "nice": false, "zero": false},
               "axis": {"values": [19700, 19800, 19900, 20000, 20100, 20200, 20300, 20400, 20500, 20600, 20700], "format": "d", "title": "Deconvoluted Mass (amu)"}},
         "y": {"field": "counts", "type": "quantitative", "scale": {"domain": [0, 2.1615], "nice": false, "zero": false},
               "axis": {"values": [0, 0.2, 0.4, 0.6, 0.8, 1, 1.2, 1.4, 1.6, 1.8, 2.04], "format": "~g", "labelExpr": "datum.value > 1.9 ? 'x10 ⁵' : datum.label", "tickOpacity": {"condition": {"test": "datum.value > 1.9", "value": 0}, "value": 1}, "title": "Counts", "titleY": 163}}}},
      {"data": {"name": "b3p"}, "mark": {"type": "text"},
       "encoding": {
         "x": {"field": "mass", "type": "quantitative", "scale": {"domain": [19602, 20828], "nice": false, "zero": false}, "axis": null},
         "y": {"field": "counts", "type": "quantitative", "scale": {"domain": [0, 2.1615], "nice": false, "zero": false},
               "axis": {"orient": "right", "labels": false, "ticks": false, "domain": false, "title": "P27", "titleAngle": 0, "titleAlign": "left", "titleBaseline": "middle", "titleX": 2, "titleY": 145, "titleFont": "Liberation Serif", "titleFontSize": 27, "titleFontWeight": "normal"}},
         "text": {"field": "label"}}},
      {"data": {"name": "b3p"}, "transform": [{"filter": "datum.ring"}],
       "mark": {"type": "point", "shape": "M-1,0A1,0.34,0,1,0,1,0A1,0.34,0,1,0,-1,0Z", "size": 5329, "filled": false, "strokeWidth": 2, "opacity": 1},
       "encoding": {
         "x": {"field": "mass", "type": "quantitative", "scale": {"domain": [19602, 20828], "nice": false, "zero": false}, "axis": null},
         "y": {"field": "counts", "type": "quantitative", "scale": {"domain": [0, 2.1615], "nice": false, "zero": false}, "axis": null},
         "color": {"field": "ring", "type": "nominal", "scale": {"domain": ["blue", "red"], "range": ["#1C75BC", "#E4202A"]}, "legend": null}}}
    ],
    "resolve": {"axis": {"x": "independent", "y": "independent"}}
  }
]
}
